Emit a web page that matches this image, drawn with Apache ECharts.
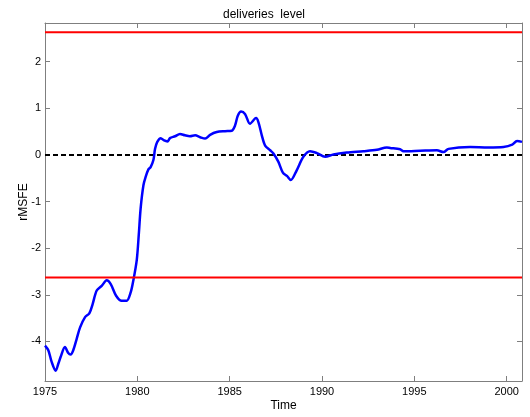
<!DOCTYPE html>
<html>
<head>
<meta charset="utf-8">
<script src="https://cdn.jsdelivr.net/npm/echarts@6/dist/echarts.min.js"></script>
<style>html,body{margin:0;padding:0;background:#fff}#c{width:530px;height:417px}</style>
</head>
<body>
<div id="c"></div>
<script>
var years = [1975.0, 1975.18, 1975.36, 1975.58, 1975.72, 1975.85, 1976.08, 1976.26, 1976.39, 1976.53, 1976.72, 1976.9, 1977.17, 1977.4, 1977.58, 1977.8, 1978.07, 1978.34, 1978.56, 1978.85, 1979.15, 1979.42, 1979.64, 1979.78, 1979.97, 1980.08, 1980.18, 1980.33, 1980.45, 1980.6, 1980.72, 1980.87, 1980.96, 1981.08, 1981.27, 1981.45, 1981.63, 1981.77, 1982.04, 1982.31, 1982.58, 1982.85, 1983.13, 1983.4, 1983.67, 1983.94, 1984.3, 1984.75, 1985.11, 1985.29, 1985.44, 1985.62, 1985.83, 1986.1, 1986.43, 1986.56, 1986.74, 1986.92, 1987.19, 1987.37, 1987.64, 1987.88, 1988.1, 1988.31, 1988.63, 1988.99, 1989.35, 1989.72, 1990.17, 1990.62, 1991.34, 1992.24, 1992.97, 1993.51, 1993.69, 1994.23, 1994.41, 1995.31, 1996.22, 1996.58, 1996.85, 1998.02, 1999.0, 1999.83, 2000.3, 2000.56, 2000.83];
var rmsfe = [-4.09, -4.19, -4.44, -4.63, -4.48, -4.33, -4.12, -4.25, -4.28, -4.19, -3.94, -3.70, -3.48, -3.40, -3.20, -2.91, -2.81, -2.69, -2.77, -3.02, -3.13, -3.13, -2.95, -2.70, -2.25, -1.70, -1.14, -0.65, -0.47, -0.31, -0.26, -0.11, 0.13, 0.28, 0.36, 0.31, 0.29, 0.36, 0.40, 0.45, 0.42, 0.40, 0.42, 0.38, 0.35, 0.43, 0.49, 0.51, 0.52, 0.63, 0.84, 0.93, 0.88, 0.67, 0.79, 0.70, 0.42, 0.20, 0.10, 0.03, -0.15, -0.38, -0.45, -0.54, -0.33, -0.04, 0.08, 0.04, -0.04, 0.01, 0.05, 0.08, 0.11, 0.16, 0.15, 0.12, 0.08, 0.09, 0.10, 0.06, 0.13, 0.17, 0.16, 0.17, 0.22, 0.30, 0.28];
var bandUpper = 2.63;
var bandLower = -2.63;
var xTicks = [1975, 1980, 1985, 1990, 1995, 2000];
var yTicks = [-4, -3, -2, -1, 0, 1, 2];

var FONT = 'Liberation Sans, Arial, Helvetica, sans-serif';
var chart = echarts.init(document.getElementById('c'));
var data = years.map(function (y, i) { return [y, rmsfe[i]]; });
var axisColor = '#7f7f7f';
function xAx(pos, showLabel) {
  return {
    type: 'value', min: 1975, max: 2000.83, position: pos,
    axisLine: { show: true, onZero: false, lineStyle: { color: axisColor, width: 1 } },
    axisTick: { show: true, inside: true, length: 5, customValues: xTicks, lineStyle: { color: axisColor } },
    axisLabel: { show: showLabel, customValues: xTicks, color: '#000', fontSize: 11, fontFamily: FONT, margin: 5,
      formatter: function (v) { return String(Math.round(v)); } },
    splitLine: { show: false },
    name: showLabel ? 'Time' : '', nameLocation: 'middle', nameGap: 19, nameMoveOverlap: false,
    nameTextStyle: { color: '#000', fontSize: 12, fontFamily: FONT }
  };
}
function yAx(pos, showLabel) {
  return {
    type: 'value', min: -4.85, max: 2.83, position: pos,
    axisLine: { show: true, onZero: false, lineStyle: { color: axisColor, width: 1 } },
    axisTick: { show: true, inside: true, length: 5, customValues: yTicks, lineStyle: { color: axisColor } },
    axisLabel: { show: showLabel, customValues: yTicks, color: '#000', fontSize: 11, fontFamily: FONT, margin: 4,
      formatter: function (v) { return String(Math.round(v)); } },
    splitLine: { show: false },
    name: showLabel ? 'rMSFE' : '', nameLocation: 'middle', nameGap: 15, nameRotate: 90, nameMoveOverlap: false,
    nameTextStyle: { color: '#000', fontSize: 12, fontFamily: FONT }
  };
}
chart.setOption({
  animation: false,
  title: { text: 'deliveries  level', left: 218, top: 4, textStyle: { fontSize: 12, fontWeight: 'normal', color: '#000', fontFamily: FONT } },
  grid: { left: 45, right: 8, top: 23, bottom: 33, containLabel: false },
  xAxis: [xAx('bottom', true), xAx('top', false)],
  yAxis: [yAx('left', true), yAx('right', false)],
  series: [
    {
      type: 'line', data: [[1975, 0], [2000.83, 0]], symbol: 'none', silent: true,
      lineStyle: { color: '#000', width: 2, type: [5, 3] }, z: 2
    },
    {
      type: 'line', data: data, symbol: 'none', smooth: 0.3,
      lineStyle: { color: '#0000ff', width: 2.5 }, z: 3
    },
    {
      type: 'line', data: [[1975, bandUpper], [2000.83, bandUpper]], symbol: 'none', silent: true,
      lineStyle: { color: '#ff0000', width: 2 }, z: 4
    },
    {
      type: 'line', data: [[1975, bandLower], [2000.83, bandLower]], symbol: 'none', silent: true,
      lineStyle: { color: '#ff0000', width: 2 }, z: 4
    }
  ]
});
</script>
</body>
</html>
